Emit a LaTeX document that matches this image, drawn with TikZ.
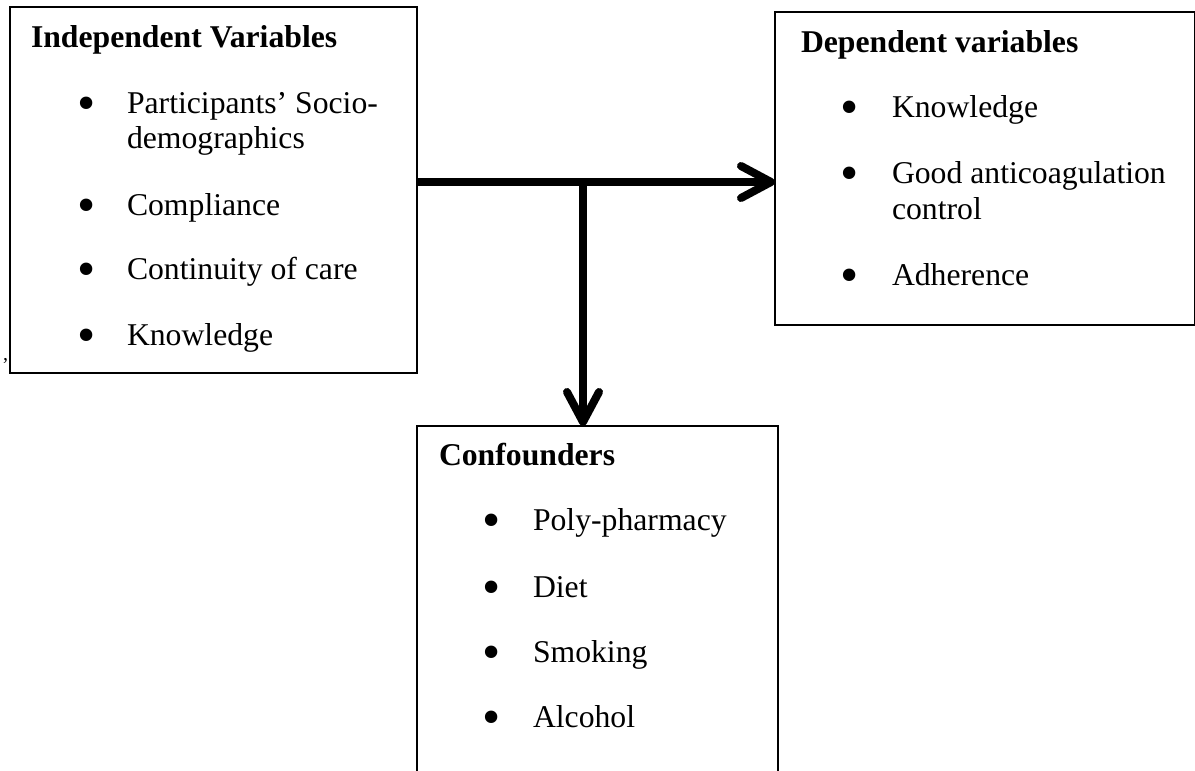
\documentclass[tikz,border=0pt]{standalone}
\usepackage{fontspec}
\setmainfont{Liberation Serif}
\usetikzlibrary{arrows.meta}
\begin{document}
\begin{tikzpicture}[x=1pt,y=-1pt,
  every node/.style={inner sep=0pt, outer sep=0pt},
  varbox/.style={draw=black, line width=1.6pt, anchor=north west, minimum width=#1},
  head/.style={anchor=base west, font=\fontsize{31.7}{35}\selectfont\bfseries},
  itm/.style={anchor=base west, font=\fontsize{31.7}{35}\selectfont},
  bul/.style={anchor=base, yshift=-7pt, font=\fontsize{52}{55}\selectfont},
  conn/.style={line width=8pt, draw=black},
  conntip/.style={conn, -{Straight Barb[length=30pt, width=32pt, round]}}
]
\useasboundingbox (0,0) rectangle (1195,771);
\fill[white] (0,0) rectangle (1195,771);

% boxes
\node[varbox=407pt, minimum height=366pt] (ind) at (10,7) {};
\node[varbox=420pt, minimum height=313pt] (dep) at (775,12) {};
\node[varbox=361pt, minimum height=360pt, line width=1.1pt] (conf) at (417,426) {};

% Independent variables
\node[head] (t1) at (31,47) {Independent Variables};
\node[bul] (b11) at (87,113) {•};
\node[itm] (i11) at (127,113) {Participants’ Socio-};
\node[itm] (i11b) at (127,148) {demographics};
\node[bul] (b12) at (87,215) {•};
\node[itm] (i12) at (127,215) {Compliance};
\node[bul] (b13) at (87,279) {•};
\node[itm] (i13) at (127,279) {Continuity of care};
\node[bul] (b14) at (87,345) {•};
\node[itm] (i14) at (127,345) {Knowledge};
\node[anchor=base west, font=\fontsize{20}{22}\selectfont] (mark) at (3,360) {,};

% Dependent variables
\node[head] (t2) at (801,52) {Dependent variables};
\node[bul] (b21) at (850,117) {•};
\node[itm] (i21) at (892,117) {Knowledge};
\node[bul] (b22) at (850,183) {•};
\node[itm] (i22) at (892,183) {Good anticoagulation};
\node[itm] (i22b) at (892,219) {control};
\node[bul] (b23) at (850,285) {•};
\node[itm] (i23) at (892,285) {Adherence};

% Confounders
\node[head] (t3) at (439,465) {Confounders};
\node[bul] (b31) at (492,530) {•};
\node[itm] (i31) at (533,530) {Poly-pharmacy};
\node[bul] (b32) at (492,597) {•};
\node[itm] (i32) at (533,597) {Diet};
\node[bul] (b33) at (492,662) {•};
\node[itm] (i33) at (533,662) {Smoking};
\node[bul] (b34) at (492,727) {•};
\node[itm] (i34) at (533,727) {Alcohol};

% connectors
\coordinate (j) at (583,182);
\draw[conntip] (j -| ind.east) -- (j -| dep.west);
\draw[conntip] (j) -- (j |- conf.north);
\end{tikzpicture}
\end{document}
